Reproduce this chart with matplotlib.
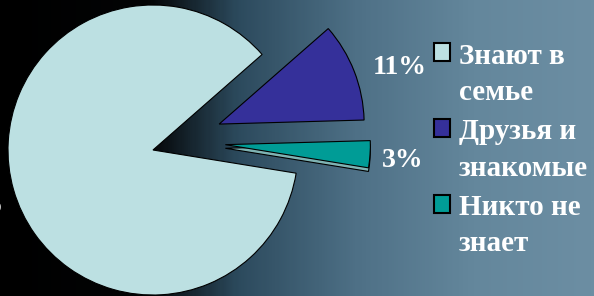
import numpy as np
import matplotlib
matplotlib.use("Agg")
import matplotlib.pyplot as plt
from matplotlib.colors import LinearSegmentedColormap
from matplotlib.patches import Rectangle, Wedge
from matplotlib.legend_handler import HandlerPatch

# данные
categorias = ["Знают в\nсемье", "Друзья и\nзнакомые", "Никто не\nзнает"]
valores = [86, 11, 3]
colores = ["#bce0e2", "#35309a", "#009c96"]
explode = [0, 0.49, 0.5]

plt.rcParams["font.family"] = ["Liberation Serif", "DejaVu Serif"]

fig = plt.figure(figsize=(5.94, 2.96), dpi=100)

# fondo oscuro (foto)
bg = fig.add_axes([0, 0, 1, 1])
fondo = LinearSegmentedColormap.from_list(
    "fondo",
    [(0, "#000000"), (0.25, "#030405"), (0.4, "#2c4a5d"),
     (0.6, "#4e7086"), (0.8, "#64879c"), (1, "#6c8ea3")],
)
bg.imshow(np.linspace(0, 1, 300).reshape(1, -1), cmap=fondo, aspect="auto",
          extent=[0, 1, 0, 1])
bg.set_axis_off()

# ejes del pastel: 1 unidad = 145 px, centro en (153, 150)
ax = fig.add_axes([0, 0, 1, 1])
ax.set_axis_off()

wedges, _ = ax.pie(
    valores,
    colors=colores,
    explode=explode,
    startangle=-9.2,
    counterclock=False,
    radius=1,
    wedgeprops={"edgecolor": "black", "linewidth": 0.8},
    normalize=True,
)
# el sector pequeño esta un poco mas arriba en el original
cx, cy = wedges[2].center
wedges[2].set_center((cx, cy + 0.07))

# borde "3D" bajo el sector pequeño
w = wedges[2]
sombra = Wedge((cx, cy + 0.07 - 0.025), w.r, w.theta1, w.theta2,
               facecolor="#7fb3b3", edgecolor="black", linewidth=0.8,
               zorder=w.get_zorder() - 0.1)
ax.add_patch(sombra)

ax.set_xlim(-153 / 145, (594 - 153) / 145)
ax.set_ylim(-146 / 145, 150 / 145)
ax.set_aspect("auto")

# etiquetas de porcentaje
pos_etiquetas = [(-1.03, -0.38, "right"), (1.70, 0.57, "center"), (1.72, -0.07, "center")]
for v, (x, y, ha) in zip(valores, pos_etiquetas):
    ax.text(x, y, f"{v}%", color="white", fontsize=20, fontweight="bold",
            ha=ha, va="center")


def cuadro(legend, orig_handle, xdescent, ydescent, width, height, fontsize):
    # cuadro alineado con la primera linea del texto
    return Rectangle((-xdescent, -ydescent + 0.76 * fontsize), width, height)


leg = fig.legend(
    wedges,
    categorias,
    loc="upper left",
    bbox_to_anchor=(419 / 594, 1 - 28 / 296),
    frameon=False,
    borderpad=0,
    labelcolor="white",
    prop={"weight": "bold", "size": 21},
    handlelength=0.57,
    handleheight=0.57,
    handletextpad=0.3,
    labelspacing=0.42,
    handler_map={Wedge: HandlerPatch(patch_func=cuadro)},
)
for t in leg.get_texts():
    t.set_linespacing(1.45)
for h in leg.legend_handles:
    h.set_edgecolor("black")
    h.set_linewidth(1.5)

fig.savefig("out.png", dpi=100)
